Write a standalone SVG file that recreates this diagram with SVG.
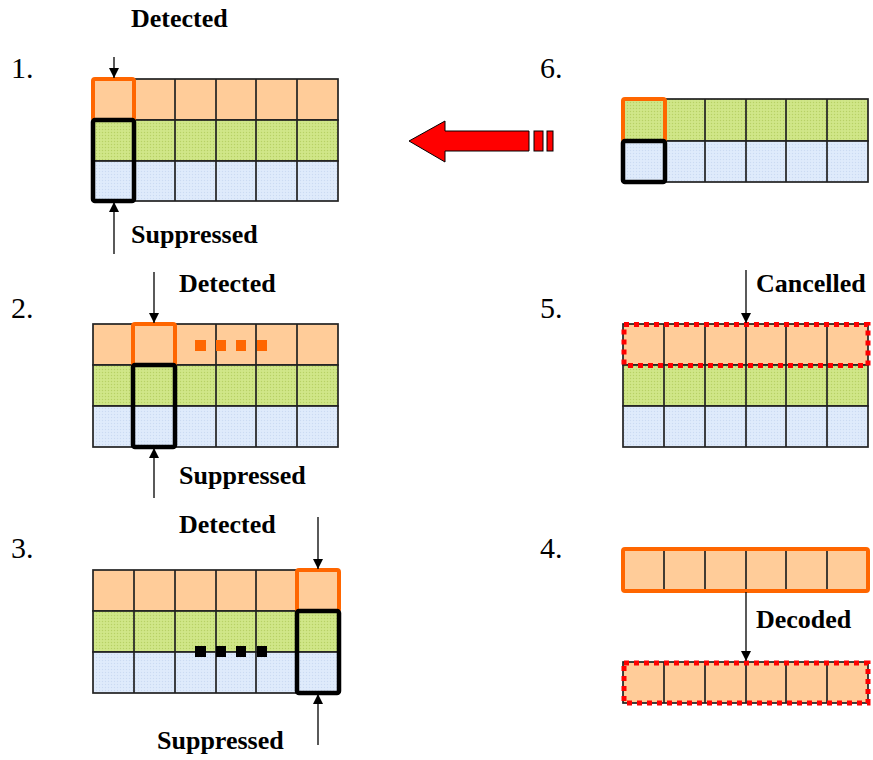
<svg xmlns="http://www.w3.org/2000/svg" width="873" height="760" viewBox="0 0 873 760">
  <defs>
    <pattern id="dotGreen" width="3" height="3" patternUnits="userSpaceOnUse">
      <rect width="3" height="3" fill="#cde483"/>
      <rect width="1" height="1" fill="#b7d067"/>
      <rect x="1.5" y="1.5" width="1" height="1" fill="#dbee9c"/>
    </pattern>
    <pattern id="dotBlue" width="3" height="3" patternUnits="userSpaceOnUse">
      <rect width="3" height="3" fill="#dde9fb"/>
      <rect width="1" height="1" fill="#cbdbf1"/>
      <rect x="1.5" y="1.5" width="1" height="1" fill="#e8f1fd"/>
    </pattern>
    <marker id="head" viewBox="0 0 10 10" refX="10" refY="5" markerWidth="10" markerHeight="10" markerUnits="userSpaceOnUse" orient="auto">
      <path d="M0,0 L10,5 L0,10 Z" fill="#000"/>
    </marker>
  </defs>
  <style>
    .o { fill: #ffcc99; stroke: #222; stroke-width: 1.7; }
    .g { fill: url(#dotGreen); stroke: #222; stroke-width: 1.7; }
    .b { fill: url(#dotBlue); stroke: #222; stroke-width: 1.7; }
    .grid { stroke: #222; stroke-width: 1.7; fill: none; }
    .hlO { fill: none; stroke: #ff6600; stroke-width: 4; }
    .hlK { fill: none; stroke: #000; stroke-width: 4.5; }
    .dash { fill: none; stroke: #ff0000; stroke-width: 5; stroke-dasharray: 5 5; }
    .lbl { font-family: "Liberation Serif", "Times New Roman", serif; font-weight: bold; font-size: 26px; fill: #000; }
    .num { font-family: "Liberation Serif", "Times New Roman", serif; font-size: 30px; fill: #000; }
    .dotO { fill: #ff6600; }
    .dotK { fill: #000; }
    .arr { stroke: #000; stroke-width: 1.3; fill: none; marker-end: url(#head); }
  </style>
  <rect width="873" height="760" fill="#fff"/>

  <!-- Step 1 -->
  <g id="step1">
    <text class="num" x="11" y="78">1.</text>
    <rect class="o" x="93" y="79" width="245" height="41"/>
    <rect class="g" x="93" y="120" width="245" height="41"/>
    <rect class="b" x="93" y="161" width="245" height="40"/>
    <path class="grid" d="M134,79V201M175,79V201M216,79V201M256,79V201M297,79V201"/>
    <rect class="hlO" x="93" y="79" width="41" height="41" rx="2"/>
    <rect class="hlK" x="93" y="120" width="41" height="81" rx="2"/>
    <text class="lbl" x="131" y="27">Detected</text>
    <text class="lbl" x="131" y="243">Suppressed</text>
  </g>

  <!-- Step 2 -->
  <g id="step2">
    <text class="num" x="11" y="318">2.</text>
    <rect class="o" x="93" y="324" width="245" height="41"/>
    <rect class="g" x="93" y="365" width="245" height="41"/>
    <rect class="b" x="93" y="406" width="245" height="41"/>
    <path class="grid" d="M134,324V447M175,324V447M216,324V447M256,324V447M297,324V447"/>
    <rect class="hlO" x="133" y="324" width="42" height="41" rx="2"/>
    <rect class="hlK" x="133" y="365" width="42" height="82" rx="2"/>
    <rect class="dotO" x="195" y="340" width="11" height="11"/>
    <rect class="dotO" x="216" y="340" width="10" height="11"/>
    <rect class="dotO" x="236" y="340" width="10" height="11"/>
    <rect class="dotO" x="257" y="340" width="10" height="11"/>
    <text class="lbl" x="179" y="292">Detected</text>
    <text class="lbl" x="179" y="484">Suppressed</text>
  </g>

  <!-- Step 3 -->
  <g id="step3">
    <text class="num" x="11" y="558">3.</text>
    <rect class="o" x="93" y="570" width="245" height="41"/>
    <rect class="g" x="93" y="611" width="245" height="41"/>
    <rect class="b" x="93" y="652" width="245" height="41"/>
    <path class="grid" d="M134,570V693M175,570V693M216,570V693M256,570V693M297,570V693"/>
    <rect class="hlO" x="297" y="570" width="42" height="41" rx="2"/>
    <rect class="hlK" x="297" y="611" width="42" height="82" rx="2"/>
    <rect class="dotK" x="195" y="646" width="11" height="11"/>
    <rect class="dotK" x="216" y="646" width="10" height="11"/>
    <rect class="dotK" x="236" y="646" width="10" height="11"/>
    <rect class="dotK" x="257" y="646" width="10" height="11"/>
    <text class="lbl" x="179" y="533">Detected</text>
    <text class="lbl" x="157" y="749">Suppressed</text>
  </g>

  <!-- Step 4 -->
  <g id="step4">
    <text class="num" x="540" y="558">4.</text>
    <rect class="o" x="623" y="549" width="245" height="42"/>
    <path class="grid" d="M664,549V591M705,549V591M746,549V591M786,549V591M827,549V591"/>
    <rect class="hlO" x="623" y="549" width="245" height="42" rx="2"/>
    <rect class="o" x="623" y="662" width="245" height="41"/>
    <path class="grid" d="M664,662V703M705,662V703M746,662V703M786,662V703M827,662V703"/>
    <rect class="dash" x="624" y="663" width="244" height="40"/>
    <text class="lbl" x="756" y="628">Decoded</text>
  </g>

  <!-- Step 5 -->
  <g id="step5">
    <text class="num" x="540" y="318">5.</text>
    <rect class="o" x="623" y="324" width="245" height="41"/>
    <rect class="g" x="623" y="365" width="245" height="41"/>
    <rect class="b" x="623" y="406" width="245" height="41"/>
    <path class="grid" d="M664,324V447M705,324V447M746,324V447M786,324V447M827,324V447"/>
    <rect class="dash" x="624" y="324.5" width="244" height="41"/>
    <text class="lbl" x="756" y="292">Cancelled</text>
  </g>

  <!-- Step 6 -->
  <g id="step6">
    <text class="num" x="540" y="78">6.</text>
    <rect class="g" x="623" y="99" width="245" height="42"/>
    <rect class="b" x="623" y="141" width="245" height="41"/>
    <path class="grid" d="M664,99V182M705,99V182M746,99V182M786,99V182M827,99V182"/>
    <rect class="hlO" x="623" y="99" width="42" height="42" rx="2"/>
    <rect class="hlK" x="623" y="141" width="42" height="41" rx="2"/>
  </g>

  <!-- Big red arrow from step 6 back to step 1 -->
  <g id="loopArrow" fill="#ff0000" stroke="#000" stroke-width="1">
    <polygon points="409,141 445,121 445,131 529,131 529,151 445,151 445,162"/>
    <rect x="534" y="131" width="9" height="20"/>
    <rect x="547" y="131" width="6" height="20"/>
  </g>

  <!-- Pointer connectors -->
  <g id="connectors">
    <line class="arr" x1="114" y1="57" x2="114" y2="78"/>
    <line class="arr" x1="114" y1="254" x2="114" y2="202"/>
    <line class="arr" x1="154" y1="272" x2="154" y2="323"/>
    <line class="arr" x1="154" y1="498" x2="154" y2="448"/>
    <line class="arr" x1="318" y1="517" x2="318" y2="569"/>
    <line class="arr" x1="318" y1="745" x2="318" y2="694"/>
    <line class="arr" x1="746" y1="270" x2="746" y2="323"/>
    <line class="arr" x1="746" y1="592" x2="746" y2="661"/>
  </g>
</svg>
